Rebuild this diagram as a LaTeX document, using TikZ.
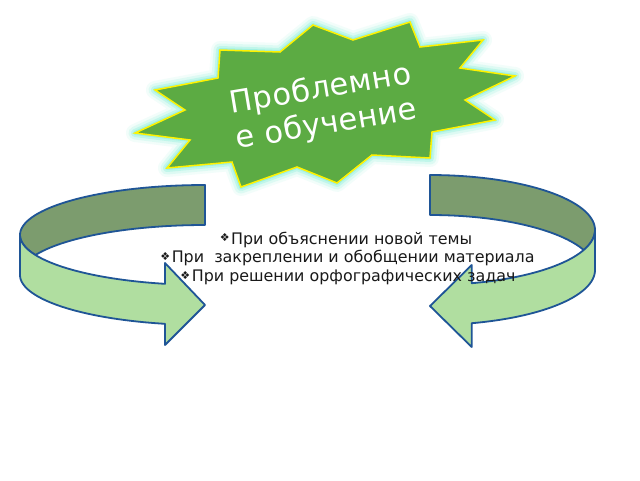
\documentclass[tikz,border=0pt]{standalone}
\usepackage{fontspec}
\setmainfont{DejaVu Sans}
\newfontfamily\titlefont[LetterSpace=1.5]{DejaVu Sans}
\definecolor{stargreen}{RGB}{92,171,67}
\definecolor{staredge}{RGB}{255,242,0}
\definecolor{glowc}{RGB}{150,240,222}
\definecolor{darkband}{RGB}{124,156,110}
\definecolor{lightband}{RGB}{176,222,160}
\definecolor{arrowblue}{RGB}{31,85,150}
\definecolor{txt}{RGB}{25,25,25}
\begin{document}
\begin{tikzpicture}[x=1pt,y=-1pt,
  outl/.style={draw=arrowblue,line width=1.8pt,line join=round},
  backband/.style={outl,fill=darkband},
  frontband/.style={outl,fill=lightband},
  glow/.style={draw=glowc,line join=round},
  titletxt/.style={text=white,font=\titlefont\fontsize{30.5}{36}\selectfont,align=center,rotate=9.5,inner sep=0pt},
  bullettxt/.style={text=txt,font=\fontsize{15.9}{18.7}\selectfont,anchor=base,inner sep=0pt}]
\useasboundingbox[fill=white] (0,0) rectangle (640,480);
\def\starpts{(313,25) -- (353,40) -- (410,22) -- (420,47) -- (483,40) -- (460,68) -- (515,76) -- (465,100) -- (495,120) -- (432,132) -- (430,158) -- (372,155) -- (337,183) -- (297,167) -- (241,187) -- (232,162) -- (167,168) -- (190,140) -- (135,133) -- (185,110) -- (155,90) -- (218,78) -- (220,50) -- (280,52) -- cycle}
% glow
\draw[glow,line width=18pt,opacity=0.12] \starpts;
\draw[glow,line width=13pt,opacity=0.22] \starpts;
\draw[glow,line width=8pt,opacity=0.4] \starpts;
\draw[glow,line width=4pt,opacity=0.7] \starpts;
% star
\draw[fill=stargreen,draw=staredge,line width=1.5pt,line join=miter] \starpts;
\node[titletxt] (title) at (323.6,107.4) {Проблемно\\е обучение};
% left arrow
\path[backband] plot[domain=90:180,samples=40] ({205+185*cos(\x)},{235-50*sin(\x)})
  -- plot[domain=180:203.58,samples=12] ({205+185*cos(\x)},{235-50*sin(\x)})
  -- plot[domain=156.42:90,samples=40] ({205+185*cos(\x)},{275-50*sin(\x)}) -- cycle;
\path[frontband] plot[domain=180:257.51,samples=50] ({205+185*cos(\x)},{235-50*sin(\x)})
  -- (165,263) -- (205,305) -- (165,345)
  -- plot[domain=257.51:180,samples=50] ({205+185*cos(\x)},{275-50*sin(\x)}) -- cycle;
% right arrow
\path[backband] plot[domain=90:0,samples=40] ({430+165*cos(\x)},{230-55*sin(\x)})
  -- plot[domain=0:-21.32,samples=12] ({430+165*cos(\x)},{230-55*sin(\x)})
  -- plot[domain=21.32:90,samples=40] ({430+165*cos(\x)},{270-55*sin(\x)}) -- cycle;
\path[frontband] plot[domain=0:-75.36,samples=50] ({430+165*cos(\x)},{230-55*sin(\x)})
  -- (471.7,265) -- (430,306) -- (471.7,347)
  -- plot[domain=-75.36:0,samples=50] ({430+165*cos(\x)},{270-55*sin(\x)}) -- cycle;
% text
\newcommand\bul{{\fontsize{11}{11}\selectfont\raisebox{2.6pt}{❖}}\hspace{1.5pt}}
\node[bullettxt] (t1) at (346,244.3) {\bul При объяснении новой темы};
\node[bullettxt] (t2) at (347.5,262.7) {\bul При\ \ закреплении и обобщении материала};
\node[bullettxt] (t3) at (348,281.7) {\bul При решении орфографических задач};
\end{tikzpicture}
\end{document}
